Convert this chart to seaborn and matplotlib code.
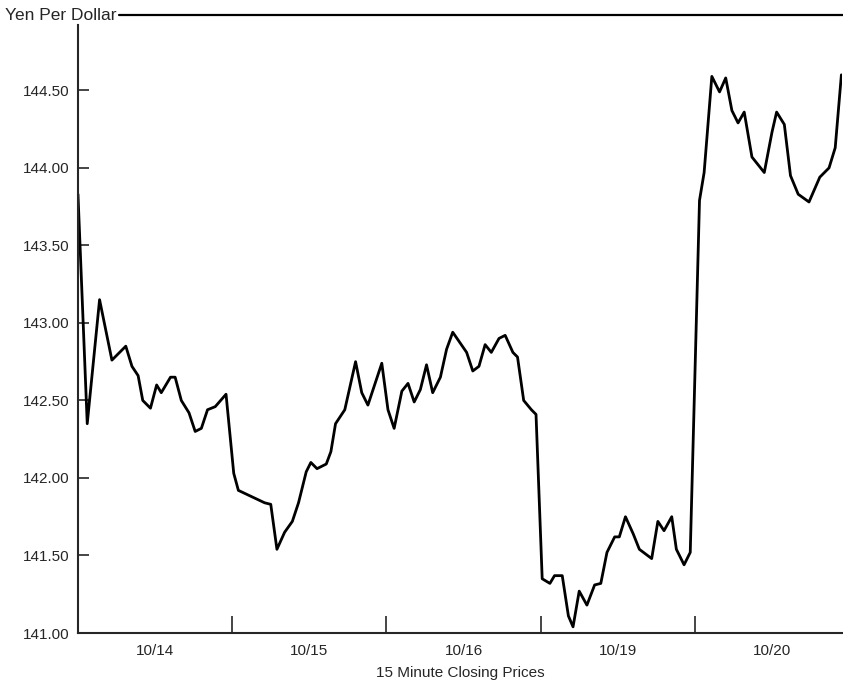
import numpy as np
import pandas as pd
import matplotlib.pyplot as plt
import seaborn as sns
from matplotlib.lines import Line2D

sns.set_style("white")
plt.rcParams['font.family'] = ['Liberation Sans', 'DejaVu Sans']

# time in trading days from start of 10/14 (15 minute closes, traced)
times = [0.00, 0.06, 0.14, 0.22, 0.31, 0.35, 0.39, 0.42, 0.47, 0.51, 0.54, 0.60, 0.63, 0.67, 0.72,
         0.76, 0.80, 0.84, 0.89, 0.96, 1.01, 1.04, 1.21, 1.25, 1.29, 1.34, 1.39, 1.43, 1.48, 1.51,
         1.55, 1.61, 1.64, 1.67, 1.73, 1.80, 1.84, 1.88, 1.97, 2.01, 2.05, 2.10, 2.14, 2.18, 2.22,
         2.26, 2.30, 2.35, 2.39, 2.43, 2.52, 2.56, 2.60, 2.64, 2.68, 2.73, 2.77, 2.82, 2.85, 2.89,
         2.94, 2.97, 3.01, 3.06, 3.09, 3.14, 3.18, 3.21, 3.25, 3.30, 3.35, 3.39, 3.43, 3.48, 3.51,
         3.55, 3.60, 3.64, 3.72, 3.76, 3.80, 3.85, 3.88, 3.93, 3.97, 4.03, 4.06, 4.11, 4.16, 4.20,
         4.24, 4.28, 4.32, 4.37, 4.45, 4.50, 4.53, 4.58, 4.62, 4.67, 4.74, 4.81, 4.87, 4.91, 4.95]
yen = [143.83, 142.35, 143.15, 142.76, 142.85, 142.72, 142.66, 142.50, 142.45, 142.60, 142.55, 142.65,
       142.65, 142.50, 142.42, 142.30, 142.32, 142.44, 142.46, 142.54, 142.03, 141.92, 141.84, 141.83,
       141.54, 141.65, 141.72, 141.84, 142.04, 142.10, 142.06, 142.09, 142.17, 142.35, 142.44, 142.75,
       142.55, 142.47, 142.74, 142.44, 142.32, 142.56, 142.61, 142.49, 142.57, 142.73, 142.55, 142.65,
       142.83, 142.94, 142.81, 142.69, 142.72, 142.86, 142.81, 142.90, 142.92, 142.81, 142.78, 142.50,
       142.44, 142.41, 141.35, 141.32, 141.37, 141.37, 141.11, 141.04, 141.27, 141.18, 141.31, 141.32,
       141.52, 141.62, 141.62, 141.75, 141.64, 141.54, 141.48, 141.72, 141.66, 141.75, 141.54, 141.44,
       141.52, 143.79, 143.97, 144.59, 144.49, 144.58, 144.37, 144.29, 144.36, 144.07, 143.97, 144.23,
       144.36, 144.28, 143.95, 143.83, 143.78, 143.94, 144.00, 144.13, 144.60]

days = ['10/14', '10/15', '10/16', '10/19', '10/20']
yticks = [141.00, 141.50, 142.00, 142.50, 143.00, 143.50, 144.00, 144.50]

df = pd.DataFrame({'t': times, 'yen': yen})

fig = plt.figure(figsize=(8.43, 6.97), dpi=100)
ax = fig.add_axes([0.0925, 0.0918, 0.9065, 0.872])

sns.lineplot(data=df, x='t', y='yen', color='black', linewidth=2.0, estimator=None, ax=ax)

ax.set_xlim(0, 4.955)
ax.set_ylim(141.0, 144.92)

sns.despine(ax=ax, top=True, right=True)
ax.spines['left'].set_linewidth(1.5)
ax.spines['bottom'].set_linewidth(1.5)

ax.set_yticks(yticks)
ax.set_yticklabels([f'{v:.2f}' for v in yticks], fontsize=11)
ax.tick_params(axis='y', direction='in', length=8, width=1.2, pad=6, left=True)

# day boundaries as major ticks, day labels on minor ticks
ax.set_xticks([1, 2, 3, 4])
ax.set_xticklabels([])
ax.set_xticks([i + 0.5 for i in range(len(days))], minor=True)
ax.set_xticklabels(days, minor=True, fontsize=11)
ax.tick_params(axis='x', which='major', direction='in', length=12, width=1.2, bottom=True)
ax.tick_params(axis='x', which='minor', length=0, pad=8)

ax.set_xlabel('15 Minute Closing Prices', fontsize=11, labelpad=6)
ax.set_ylabel('')

title = fig.text(0.006, 0.978, 'Yen Per Dollar', fontsize=12.5, va='center', ha='left')
fig.canvas.draw()
bb = title.get_window_extent().transformed(fig.transFigure.inverted())
fig.add_artist(Line2D([bb.x1 + 0.003, 1.0], [0.978, 0.978], transform=fig.transFigure,
                      color='black', linewidth=1.6))

plt.savefig('out.png', dpi=100)
